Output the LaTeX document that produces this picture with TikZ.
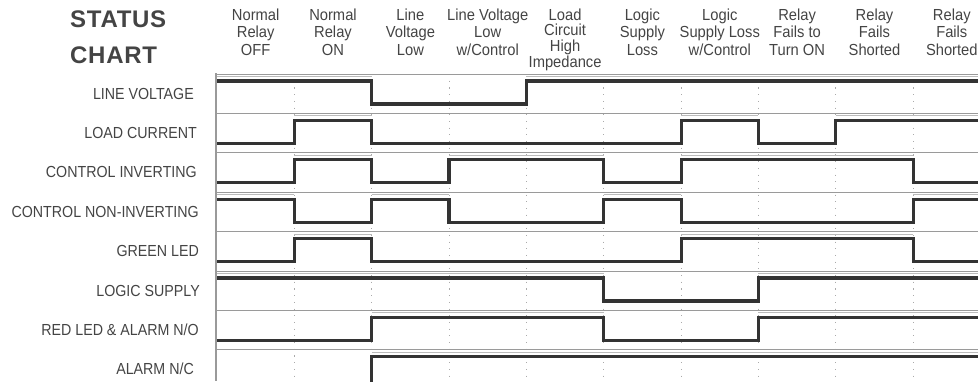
\documentclass[tikz,border=0pt]{standalone}
\usepackage{fontspec}
\setmainfont{Liberation Sans}
\newfontfamily\hdrfont[FakeStretch=0.92]{Liberation Sans}
\newfontfamily\lblfont[FakeStretch=0.89]{Liberation Sans}
\newfontfamily\ttlfont[LetterSpace=3]{Liberation Sans}
\definecolor{txt}{HTML}{444444}
\definecolor{sigc}{HTML}{333333}
\definecolor{sepc}{HTML}{9A9A9A}
\definecolor{dotc}{HTML}{AAAAAA}
\definecolor{shc}{HTML}{BBBBBB}
\tikzset{
  sig/.style={draw=sigc, line width=3.2pt, line join=miter},
  sep/.style={draw=sepc, line width=1pt},
  shad/.style={draw=shc, line width=0.8pt},
  griddots/.style={draw=dotc, line width=1.1pt, dash pattern=on 1.1pt off 5.6pt},
  hdr/.style={anchor=base, inner sep=0pt, text=txt, font=\hdrfont\fontsize{16}{17.5}\selectfont},
  lbl/.style={anchor=base east, inner sep=0pt, text=txt, font=\lblfont\fontsize{16}{18}\selectfont},
  ttl/.style={anchor=base west, inner sep=0pt, text=txt, font=\ttlfont\bfseries\fontsize{24}{28}\selectfont},
}
\newcommand\hcol[1]{\begin{tabular}[t]{@{}c@{}}#1\end{tabular}}
\def\lowoff{30}
% #1 row top, #2 first level, #3 list column/level
\newcommand\sigrow[3]{%
  \draw[sig] (217,{#1+\lowoff-(\lowoff-7)*#2})
    foreach \k/\v in {#3} { -- ({217+77.35*\k},{#1+\lowoff-(\lowoff-7)*\v}) -- ({217+77.35*(\k+1)},{#1+\lowoff-(\lowoff-7)*\v}) };
  \foreach \k/\v in {#3} {\ifnum\v=1 \draw[shad] ({217+77.35*\k},{#1+2.4}) -- ({217+77.35*(\k+1)},{#1+2.4});\fi}
}
\begin{document}
\begin{tikzpicture}[x=1pt,y=-1pt]
\useasboundingbox (0,0) rectangle (978,381);
\clip (0,0) rectangle (978,381);
% title
\node[ttl] (status) at (70,27) {STATUS};
\node[ttl] (chart) at (70,63) {CHART};
% column headers
\node[hdr] (h0) at (255.7,20) {\hcol{Normal\\Relay\\OFF}};
\node[hdr] (h1) at (333.0,20) {\hcol{Normal\\Relay\\ON}};
\node[hdr] (h2) at (410.4,20) {\hcol{Line\\Voltage\\Low}};
\node[hdr] (h3) at (487.7,20) {\hcol{Line Voltage\\Low\\w/Control}};
\node[hdr, font=\hdrfont\fontsize{16}{14.5}\selectfont] (h4) at (565.1,20) {\hcol{Load\\Circuit\\High\\Impedance}};
\node[hdr] (h5) at (642.4,20) {\hcol{Logic\\Supply\\Loss}};
\node[hdr] (h6) at (719.8,20) {\hcol{Logic\\Supply Loss\\w/Control}};
\node[hdr] (h7) at (797.1,20) {\hcol{Relay\\Fails to\\Turn ON}};
\node[hdr] (h8) at (874.5,20) {\hcol{Relay\\Fails\\Shorted}};
\node[hdr] (h9) at (951.8,20) {\hcol{Relay\\Fails\\Shorted}};
% row labels
\node[lbl] (l0) at (194,99) {LINE VOLTAGE};
\node[lbl] (l1) at (197,138.4) {LOAD CURRENT};
\node[lbl] (l2) at (197,177.8) {CONTROL INVERTING};
\node[lbl] (l3) at (199,217.2) {CONTROL NON-INVERTING};
\node[lbl] (l4) at (199,256.6) {GREEN LED};
\node[lbl] (l5) at (200,296) {LOGIC SUPPLY};
\node[lbl] (l6) at (199,335.4) {RED LED \& ALARM N/O};
\node[lbl] (l7) at (194,374.8) {ALARM N/C};
% dotted column lines
\foreach \k in {1,...,9} \draw[griddots] ({217+77.35*\k},74) -- ({217+77.35*\k},381);
% row separators
\foreach \r in {74,113.4,152.8,192.2,231.6,271,310.4,349.8} \draw[sep] (216,\r) -- (980,\r);
\draw[sep, line width=1.5pt] (216,73) -- (216,381);
% waveforms
\sigrow{74}{1}{0/1,1/1,2/0,3/0,4/1,5/1,6/1,7/1,8/1,9/1}
\sigrow{113.4}{0}{0/0,1/1,2/0,3/0,4/0,5/0,6/1,7/0,8/1,9/1}
\sigrow{152.8}{0}{0/0,1/1,2/0,3/1,4/1,5/0,6/1,7/1,8/1,9/0}
\sigrow{192.2}{1}{0/1,1/0,2/1,3/0,4/0,5/1,6/0,7/0,8/0,9/1}
\sigrow{231.6}{0}{0/0,1/1,2/0,3/0,4/0,5/0,6/1,7/1,8/1,9/0}
\sigrow{271}{1}{0/1,1/1,2/1,3/1,4/1,5/0,6/0,7/1,8/1,9/1}
\sigrow{310.4}{0}{0/0,1/0,2/1,3/1,4/1,5/0,6/0,7/1,8/1,9/1}
\def\lowoff{35}
\sigrow{349.8}{0}{0/0,1/0,2/1,3/1,4/1,5/1,6/1,7/1,8/1,9/1}
\end{tikzpicture}
\end{document}
